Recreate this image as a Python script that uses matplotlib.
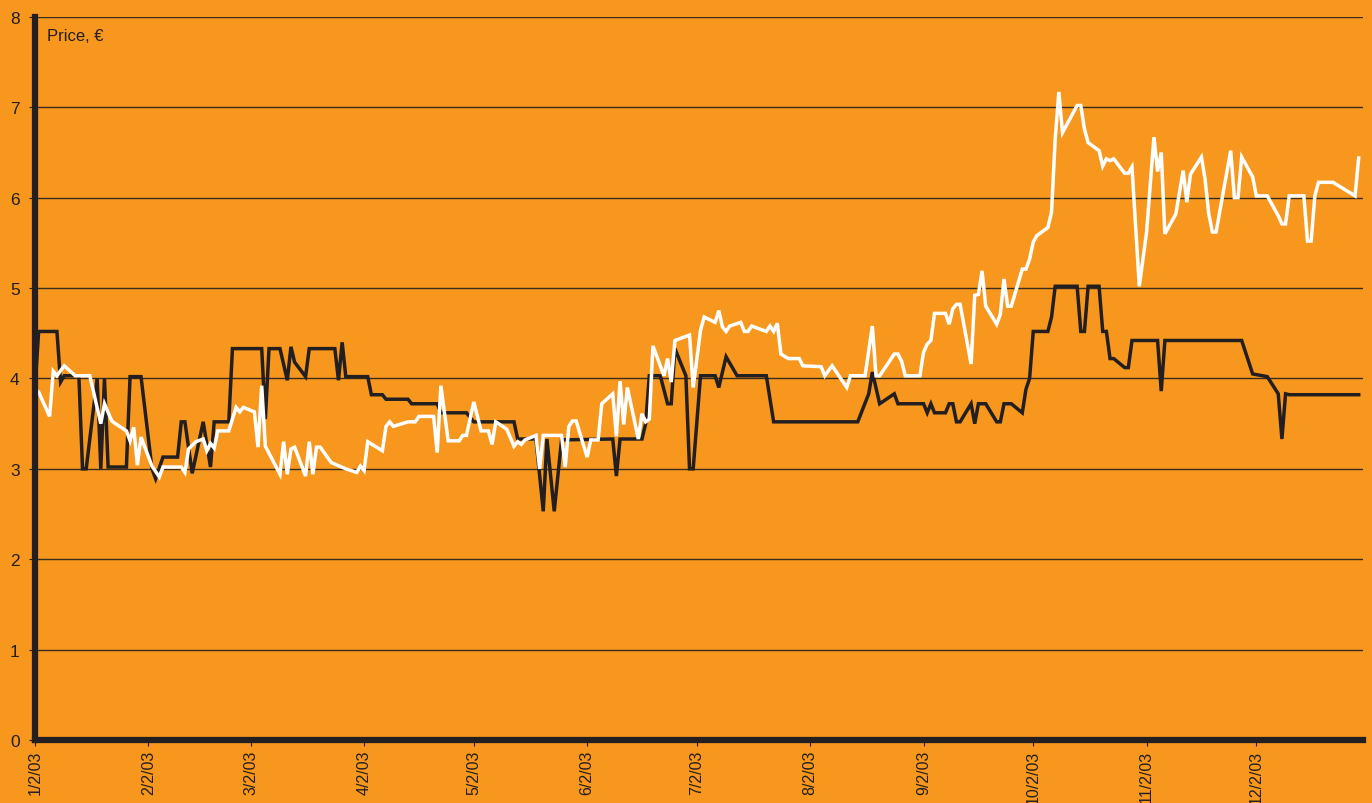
import numpy as np
import pandas as pd
import matplotlib
matplotlib.use('Agg')
import matplotlib.pyplot as plt
import matplotlib.dates as mdates

# days counted from 2 Jan 2003, prices in euro
darkDays = [0, 1, 6, 7, 8, 12, 13, 14, 17, 18, 19, 20, 25, 26, 29, 32, 33, 35, 39, 40,
            41, 43, 46, 48, 49, 53, 54, 62, 63, 64, 67, 69, 70, 71, 74, 75, 82, 83, 84, 85,
            91, 92, 95, 96, 102, 103, 110, 111, 118, 120, 131, 132, 137, 139, 140, 142, 144, 158, 159, 160,
            166, 167, 168, 171, 173, 174, 175, 178, 179, 180, 182, 186, 187, 189, 192, 200, 202, 225, 228, 229,
            231, 235, 236, 243, 244, 245, 246, 249, 250, 251, 252, 253, 256, 257, 258, 260, 263, 264, 265, 267,
            270, 271, 272, 273, 277, 278, 279, 285, 286, 287, 288, 291, 292, 293, 294, 295, 298, 299, 300, 307,
            308, 309, 330, 333, 337, 340, 341, 342, 343, 362]
darkPrice = [3.88, 4.52, 4.52, 3.96, 4.03, 4.03, 3.00, 3.00, 4.00, 3.00, 4.00, 3.02, 3.02, 4.02, 4.02, 3.00, 2.89, 3.13, 3.13, 3.52,
             3.52, 2.95, 3.52, 3.02, 3.52, 3.52, 4.33, 4.33, 3.55, 4.33, 4.33, 3.98, 4.35, 4.18, 4.02, 4.33, 4.33, 3.98, 4.40, 4.02,
             4.02, 3.82, 3.82, 3.77, 3.77, 3.72, 3.72, 3.62, 3.62, 3.52, 3.52, 3.33, 3.33, 2.53, 3.33, 2.53, 3.32, 3.33, 2.92, 3.33,
             3.33, 3.50, 4.03, 4.03, 3.72, 3.72, 4.33, 4.03, 3.00, 3.00, 4.03, 4.03, 3.90, 4.24, 4.03, 4.03, 3.52, 3.52, 3.83, 4.07,
             3.72, 3.83, 3.72, 3.72, 3.62, 3.72, 3.62, 3.62, 3.72, 3.72, 3.52, 3.52, 3.72, 3.50, 3.72, 3.72, 3.52, 3.52, 3.72, 3.72,
             3.62, 3.88, 4.00, 4.52, 4.52, 4.68, 5.02, 5.02, 4.52, 4.52, 5.02, 5.02, 4.52, 4.52, 4.22, 4.22, 4.12, 4.12, 4.42, 4.42,
             3.86, 4.42, 4.42, 4.05, 4.02, 3.83, 3.33, 3.83, 3.82, 3.82]

whiteDays = [0, 1, 4, 5, 6, 8, 11, 15, 18, 19, 21, 22, 25, 26, 27, 28, 29, 32, 34, 35,
             40, 41, 42, 44, 46, 47, 48, 49, 50, 53, 55, 56, 57, 60, 61, 62, 63, 67, 68, 69,
             70, 71, 74, 75, 76, 77, 78, 81, 85, 88, 89, 90, 91, 95, 96, 97, 98, 102, 104, 105,
             109, 110, 111, 113, 116, 117, 118, 120, 122, 124, 125, 126, 129, 131, 132, 133, 134, 137, 138, 139,
             144, 145, 146, 147, 148, 151, 152, 154, 155, 158, 159, 160, 161, 162, 165, 166, 167, 168, 169, 172,
             173, 174, 175, 179, 180, 182, 183, 186, 187, 188, 189, 190, 193, 194, 195, 196, 200, 201, 202, 203,
             204, 206, 209, 210, 215, 216, 218, 222, 223, 227, 229, 230, 231, 235, 236, 237, 238, 242, 243, 244,
             245, 246, 249, 250, 251, 252, 253, 256, 257, 258, 259, 260, 263, 264, 265, 266, 267, 270, 271, 272,
             273, 274, 277, 278, 279, 280, 281, 285, 286, 287, 288, 291, 292, 293, 294, 295, 298, 299, 300, 302,
             304, 306, 307, 308, 309, 312, 314, 315, 316, 319, 320, 321, 322, 323, 327, 328, 329, 330, 333, 334,
             337, 340, 341, 342, 343, 347, 348, 349, 350, 351, 355, 361, 362]
whitePrice = [3.88, 3.85, 3.58, 4.08, 4.03, 4.14, 4.03, 4.03, 3.50, 3.72, 3.53, 3.50, 3.42, 3.31, 3.46, 3.04, 3.35, 3.03, 2.91, 3.02,
              3.02, 2.96, 3.22, 3.30, 3.33, 3.20, 3.28, 3.23, 3.42, 3.42, 3.68, 3.63, 3.68, 3.63, 3.24, 3.92, 3.25, 2.94, 3.30, 2.94,
              3.22, 3.24, 2.92, 3.30, 2.94, 3.24, 3.24, 3.07, 3.00, 2.96, 3.03, 2.98, 3.30, 3.20, 3.47, 3.52, 3.47, 3.52, 3.52, 3.58,
              3.58, 3.18, 3.92, 3.31, 3.31, 3.37, 3.37, 3.74, 3.42, 3.42, 3.27, 3.52, 3.44, 3.25, 3.30, 3.27, 3.32, 3.37, 3.00, 3.37,
              3.37, 3.02, 3.47, 3.53, 3.53, 3.13, 3.32, 3.32, 3.72, 3.83, 3.36, 3.97, 3.49, 3.90, 3.33, 3.61, 3.52, 3.55, 4.36, 4.03,
              4.22, 3.96, 4.42, 4.48, 3.90, 4.53, 4.68, 4.62, 4.75, 4.57, 4.52, 4.58, 4.62, 4.52, 4.52, 4.58, 4.52, 4.58, 4.52, 4.61,
              4.27, 4.22, 4.22, 4.14, 4.13, 4.03, 4.14, 3.90, 4.03, 4.03, 4.58, 4.03, 4.03, 4.27, 4.27, 4.19, 4.03, 4.03, 4.29, 4.38,
              4.42, 4.72, 4.72, 4.60, 4.77, 4.82, 4.82, 4.16, 4.92, 4.93, 5.19, 4.80, 4.60, 4.71, 5.10, 4.80, 4.80, 5.21, 5.21, 5.32,
              5.51, 5.58, 5.67, 5.84, 6.65, 7.17, 6.72, 7.02, 7.02, 6.76, 6.61, 6.52, 6.35, 6.43, 6.41, 6.43, 6.27, 6.27, 6.34, 5.02,
              5.62, 6.67, 6.29, 6.50, 5.60, 5.82, 6.30, 5.95, 6.26, 6.45, 6.20, 5.82, 5.62, 5.62, 6.52, 6.00, 6.00, 6.45, 6.23, 6.02,
              6.02, 5.80, 5.71, 5.71, 6.02, 6.02, 5.52, 5.52, 6.02, 6.17, 6.17, 6.02, 6.44]

tickDates = ['2003-01-02', '2003-02-02', '2003-03-02', '2003-04-02', '2003-05-02', '2003-06-02',
             '2003-07-02', '2003-08-02', '2003-09-02', '2003-10-02', '2003-11-02', '2003-12-02']
yTicks = [0, 1, 2, 3, 4, 5, 6, 7, 8]

start = pd.Timestamp('2003-01-02')
darkDates = start + pd.to_timedelta(darkDays, unit='D')
whiteDates = start + pd.to_timedelta(whiteDays, unit='D')

orange = '#F7971E'
dark = '#231F20'

plt.rcParams['font.family'] = ['Liberation Sans', 'DejaVu Sans']

fig = plt.figure(figsize=(13.72, 8.04), dpi=100, facecolor=orange)
ax = fig.add_axes([0.0255, 0.0784, 0.968, 0.8993], facecolor=orange)

# grid lines behind the data
for yv in yTicks[1:]:
    ax.axhline(yv, color='#3a2c1c', lw=1.0, zorder=1)

ax.plot(darkDates, darkPrice, color=dark, lw=2.5, zorder=3, solid_joinstyle='miter')
ax.plot(whiteDates, whitePrice, color='white', lw=2.5, zorder=4, solid_joinstyle='miter')

ax.set_ylim(0, 8)
ax.set_xlim(start, start + pd.Timedelta(days=363.2))
ax.set_yticks(yTicks)
ax.set_yticklabels([str(v) for v in yTicks], fontsize=12.5, color=dark)

ticks = pd.to_datetime(tickDates)
ax.set_xticks(ticks)
ax.set_xticklabels(['%d/%d/%s' % (t.month, t.day, t.strftime('%y')) for t in ticks],
                   rotation=90, fontsize=11.5, color=dark)

ax.tick_params(axis='both', length=4, width=0.8, color=dark, pad=3)
ax.tick_params(axis='y', pad=7)

for side in ['top', 'right']:
    ax.spines[side].set_visible(False)
ax.spines['left'].set_linewidth(4.5)
ax.spines['bottom'].set_linewidth(4.5)
ax.spines['left'].set_color(dark)
ax.spines['bottom'].set_color(dark)
ax.spines['left'].set_zorder(5)
ax.spines['bottom'].set_zorder(5)

ax.text(0.009, 0.985, 'Price, \u20ac', transform=ax.transAxes, fontsize=12,
        color=dark, ha='left', va='top')

fig.savefig('out.png', dpi=100, facecolor=orange)
